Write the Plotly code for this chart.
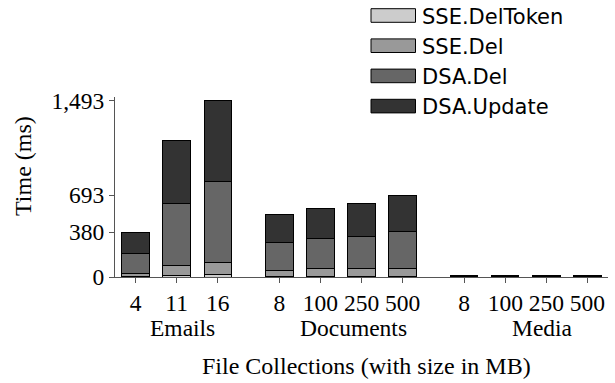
import plotly.graph_objects as go

# ---- data ----
groups = ["Emails", "Documents", "Media"]
group_sizes = [["4", "11", "16"], ["8", "100", "250", "500"], ["8", "100", "250", "500"]]
series_names = ["SSE.DelToken", "SSE.Del", "DSA.Del", "DSA.Update"]
sse_deltoken = [6, 12, 17, 6, 8, 8, 8, 1, 1, 1, 1]
sse_del = [24, 87, 108, 48, 60, 63, 63, 2, 2, 2, 2]
dsa_del = [173, 526, 684, 238, 254, 272, 311, 3, 3, 3, 3]
dsa_update = [173, 528, 684, 240, 258, 276, 311, 4, 4, 4, 3]
y_tickvals = [0, 380, 693, 1493]
y_ticktext = ["0", "380", "693", "1,493"]

# ---- styling ----
colors = ["#cccccc", "#999999", "#666666", "#333333"]
W, H = 615, 383
ML, MR, MT, MB = 115, 7, 97, 106
SERIF = "Liberation Serif"
SANS = "DejaVu Sans"
FS = 24
TFS = 23.5

# x positions from group structure (gap of 1.5 between groups)
xs, xlabels = [], []
pos = 0.0
for gi, sizes in enumerate(group_sizes):
    if gi > 0:
        pos += 0.5
    for s in sizes:
        xs.append(pos)
        xlabels.append(s)
        pos += 1.0

series_vals = [sse_deltoken, sse_del, dsa_del, dsa_update]

fig = go.Figure()
for name, vals, c in zip(series_names, series_vals, colors):
    fig.add_trace(go.Bar(
        x=xs, y=vals, name=name, width=0.667,
        marker=dict(color=c, line=dict(color="black", width=1)),
        showlegend=False,
    ))

pw = W - ML - MR
ph = H - MT - MB

def px2x(px):
    return (px - ML) / pw

def py2y(py):
    return (H - MB - py) / ph

annotations = []
shapes = []
# manual legend
row_centers = [15.5, 45.7, 75.9, 106.1]
for name, c, yc in zip(series_names, colors, row_centers):
    shapes.append(dict(type="rect", xref="paper", yref="paper",
                       x0=px2x(371), x1=px2x(415.5), y0=py2y(yc - 6.8), y1=py2y(yc + 6.8),
                       fillcolor=c, line=dict(color="black", width=1)))
    annotations.append(dict(text=name, xref="paper", yref="paper", x=px2x(420), y=py2y(yc + 1),
                            xanchor="left", yanchor="middle", showarrow=False,
                            font=dict(family=SANS, size=21, color="black")))

# group labels
group_px = [182.5, 353, 542]
for g, gx in zip(groups, group_px):
    annotations.append(dict(text=g, xref="paper", yref="paper", x=px2x(gx), y=py2y(327.5),
                            xanchor="center", yanchor="middle", showarrow=False,
                            font=dict(family=SERIF, size=TFS, color="black")))
# x axis title
annotations.append(dict(text="File Collections (with size in MB)", xref="paper", yref="paper",
                        x=px2x(366), y=py2y(365.7), xanchor="center", yanchor="middle",
                        showarrow=False, font=dict(family=SERIF, size=FS, color="black")))
# y axis title
annotations.append(dict(text="Time (ms)", xref="paper", yref="paper", x=px2x(23), y=py2y(166),
                        xanchor="center", yanchor="middle", textangle=-90, showarrow=False,
                        font=dict(family=SERIF, size=FS, color="black")))

fig.update_layout(
    width=W, height=H,
    margin=dict(l=ML, r=MR, t=MT, b=MB),
    barmode="stack",
    plot_bgcolor="white", paper_bgcolor="white",
    font=dict(family=SERIF, size=FS, color="black"),
    annotations=annotations, shapes=shapes,
    xaxis=dict(range=[-0.5, 11.5], tickvals=xs, ticktext=xlabels, showline=True,
               linecolor="#555555", linewidth=1, ticks="outside", ticklen=5, tickcolor="#555555",
               showgrid=False, zeroline=False, tickfont=dict(family=SERIF, size=TFS)),
    yaxis=dict(range=[0, 1525], tickvals=y_tickvals, ticktext=y_ticktext, showline=True,
               linecolor="#555555", linewidth=1, ticks="outside", ticklen=5, tickcolor="#555555",
               showgrid=False, zeroline=False, tickfont=dict(family=SERIF, size=TFS)),
)

fig.write_html("out.html", config={"displayModeBar": False},
               post_script="document.body.style.margin='0';document.body.style.overflow='hidden';")
